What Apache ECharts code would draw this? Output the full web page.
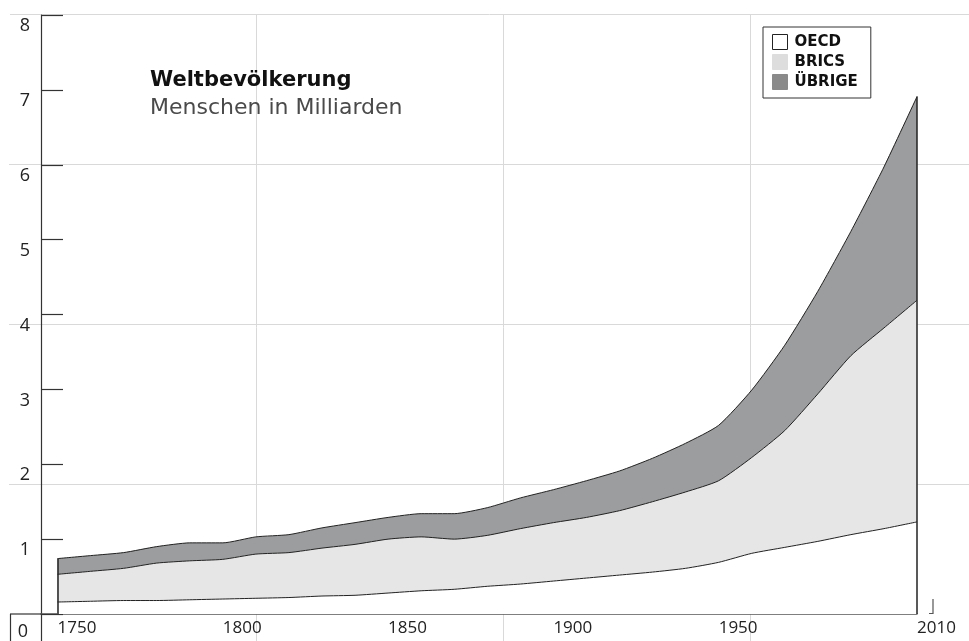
<!DOCTYPE html>
<html>
<head>
<meta charset="utf-8">
<script src="https://cdn.jsdelivr.net/npm/echarts@6/dist/echarts.min.js"></script>
<style>
  html, body { margin: 0; padding: 0; background: #fff; }
  #chart { width: 969px; height: 641px; }
</style>
</head>
<body>
<div id="chart"></div>
<script>
// Weltbevölkerung in Milliarden, je Jahrzehnt
const years = [1750, 1760, 1770, 1780, 1790, 1800, 1810, 1820, 1830, 1840, 1850, 1860, 1870, 1880,
  1890, 1900, 1910, 1920, 1930, 1940, 1950, 1960, 1970, 1980, 1990, 2000, 2010]
const oecd = [0.16, 0.17, 0.18, 0.18, 0.19, 0.20, 0.21, 0.22, 0.24, 0.25, 0.28, 0.31, 0.33, 0.37,
  0.40, 0.44, 0.48, 0.52, 0.56, 0.61, 0.69, 0.81, 0.89, 0.97, 1.06, 1.14, 1.23]
const brics = [0.37, 0.40, 0.43, 0.50, 0.52, 0.53, 0.59, 0.60, 0.64, 0.68, 0.72, 0.72, 0.67, 0.68,
  0.74, 0.78, 0.81, 0.86, 0.94, 1.02, 1.09, 1.28, 1.56, 1.97, 2.39, 2.68, 2.96]
const others = [0.21, 0.21, 0.21, 0.22, 0.24, 0.22, 0.23, 0.24, 0.27, 0.29, 0.29, 0.31, 0.34, 0.37,
  0.41, 0.44, 0.49, 0.53, 0.58, 0.65, 0.74, 0.90, 1.14, 1.37, 1.66, 2.15, 2.72]

const yearLabels = [1750, 1800, 1850, 1900, 1950, 2010]
const seriesNames = ['OECD', 'BRICS', 'ÜBRIGE']
const areaColors = ['#ffffff', '#e6e6e6', '#9c9d9e']
const legendColors = ['#ffffff', '#dddddd', '#8a8a8a']

const chart = echarts.init(document.getElementById('chart'), null, { renderer: 'canvas' })

// both axes are value axes, so the stack is summed here and drawn top layer first
const upToBrics = oecd.map((v, i) => v + brics[i])
const upToOthers = upToBrics.map((v, i) => v + others[i])
const layers = [oecd, upToBrics, upToOthers]

const first = 0
const last = years.length - 1

const series = [2, 1, 0].map((k) => ({
  name: seriesNames[k],
  type: 'line',
  smooth: 0.2,
  symbol: 'none',
  data: years.map((y, i) => [y, layers[k][i]]),
  lineStyle: { color: '#222', width: 1 },
  itemStyle: { color: areaColors[k] },
  areaStyle: { color: areaColors[k], opacity: 1 },
  emphasis: { disabled: true },
  z: 3,
}))

// left and right edge of the whole stack
series[2].markLine = {
  silent: true,
  symbol: ['none', 'none'],
  label: { show: false },
  lineStyle: { color: '#222', width: 1.5, type: 'solid' },
  data: [
    [{ coord: [years[first], 0] }, { coord: [years[first], upToOthers[first]] }],
    [{ coord: [years[last], 0] }, { coord: [years[last], upToOthers[last]] }],
  ],
}

const gridGrey = '#d9d9d9'
const hidden = { axisLine: { show: false }, axisTick: { show: false }, axisLabel: { show: false } }

const option = {
  animation: false,
  backgroundColor: '#fff',
  title: {
    text: 'Weltbevölkerung',
    subtext: 'Menschen in Milliarden',
    left: 150,
    top: 70,
    padding: 0,
    itemGap: 6,
    textStyle: { fontFamily: 'DejaVu Sans', fontSize: 21, fontWeight: 'bold', color: '#111' },
    subtextStyle: { fontFamily: 'DejaVu Sans', fontSize: 22, color: '#4a4a4a' },
  },
  legend: {
    left: 763,
    top: 27,
    orient: 'vertical',
    icon: 'rect',
    itemWidth: 15,
    itemHeight: 15,
    itemGap: 4,
    padding: [7, 13, 8, 9],
    borderColor: '#333',
    borderWidth: 1,
    selectedMode: false,
    textStyle: { fontFamily: 'DejaVu Sans', fontSize: 15, fontWeight: 'bold', color: '#111', padding: [0, 0, 0, 2] },
    data: seriesNames.map((name, k) => ({
      name,
      itemStyle: { color: legendColors[k], borderColor: k === 0 ? '#222' : legendColors[k], borderWidth: 1 },
    })),
  },
  grid: [
    { left: 41, right: 52, top: 15, bottom: 27, outerBoundsMode: 'none' },
    { left: 9, width: 960, top: 14, height: 627, outerBoundsMode: 'none' },
    { left: 9, width: 960, top: 4, height: 640, outerBoundsMode: 'none' },
  ],
  xAxis: [
    {
      type: 'value',
      min: 1745,
      max: 2010,
      axisLine: { lineStyle: { color: '#555', width: 1.5 } },
      axisTick: { show: false },
      splitLine: { show: false },
      axisLabel: {
        customValues: yearLabels,
        formatter: (v) => String(v),
        align: 'left',
        margin: 6,
        fontFamily: 'Open Sans',
        fontSize: 17,
        color: '#222',
      },
    },
    {
      gridIndex: 1, type: 'value', min: 0, max: 960, interval: 247, ...hidden,
      splitLine: { show: true, showMinLine: false, showMaxLine: false, lineStyle: { color: gridGrey, width: 1 } },
    },
    { gridIndex: 2, type: 'value', min: 0, max: 960, ...hidden, splitLine: { show: false } },
  ],
  yAxis: [
    {
      type: 'value',
      min: 0,
      max: 8,
      interval: 1,
      axisLine: { show: true, lineStyle: { color: '#333', width: 1.2 } },
      axisTick: { show: true, inside: true, length: 22, lineStyle: { color: '#333', width: 1.2 } },
      splitLine: { show: false },
      axisLabel: {
        margin: 11,
        verticalAlign: 'top',
        padding: [2, 0, 0, 0],
        fontFamily: 'Open Sans',
        fontSize: 18,
        color: '#222',
        // the zero sits a little lower, inside its box
        formatter: (v) => (v === 0 ? '{zero|0}' : String(v)),
        rich: { zero: { fontFamily: 'Open Sans', fontSize: 18, color: '#222', padding: [7, 2, 0, 0] } },
      },
    },
    { gridIndex: 1, type: 'value', min: 0, max: 10, ...hidden, splitLine: { show: false } },
    {
      gridIndex: 2, type: 'value', min: 0, max: 640, interval: 160, inverse: true, ...hidden,
      splitLine: { show: true, showMinLine: false, showMaxLine: false, lineStyle: { color: gridGrey, width: 1 } },
    },
  ],
  graphic: [
    // top frame line
    { type: 'line', shape: { x1: 10, y1: 14.5, x2: 969, y2: 14.5 }, style: { stroke: gridGrey, lineWidth: 1 }, z: 0 },
    // box around the zero and axis continuation
    { type: 'line', shape: { x1: 10, y1: 614, x2: 41, y2: 614 }, style: { stroke: '#333', lineWidth: 1.2 }, z: 5 },
    { type: 'line', shape: { x1: 10.5, y1: 614, x2: 10.5, y2: 641 }, style: { stroke: '#333', lineWidth: 1.2 }, z: 5 },
    { type: 'line', shape: { x1: 41.5, y1: 614, x2: 41.5, y2: 641 }, style: { stroke: '#333', lineWidth: 1.2 }, z: 5 },
    // end mark of the time axis
    { type: 'polyline', shape: { points: [[929, 613.5], [933, 613.5], [933, 599]] }, style: { stroke: '#555', lineWidth: 1.2, fill: null }, z: 5 },
  ],
  series,
}

chart.setOption(option)
</script>
</body>
</html>
